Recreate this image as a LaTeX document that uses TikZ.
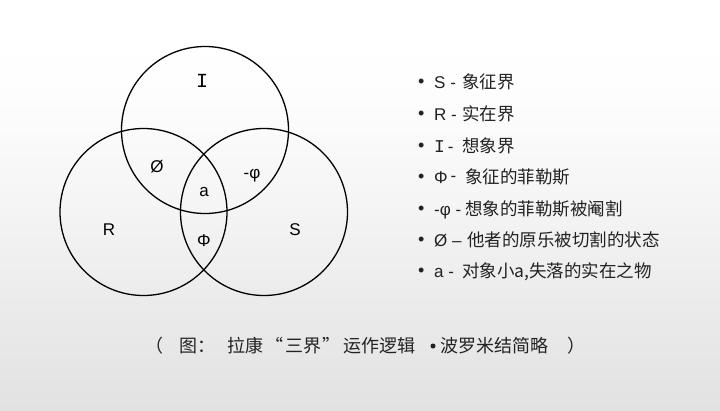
\documentclass[tikz,border=0pt]{standalone}
\usepackage{fontspec}
\setmainfont{Liberation Sans}
\newfontfamily\cjk{Noto Sans CJK SC}
\newfontfamily\monoI{Liberation Mono}
\definecolor{bgA}{HTML}{E2E2E2}
\definecolor{bgB}{HTML}{EBEBEB}
\definecolor{bgC}{HTML}{F5F5F5}
\definecolor{bgD}{HTML}{FDFDFD}
\definecolor{textgray}{HTML}{222222}
\pgfdeclareverticalshading{pagebg}{100bp}{color(0bp)=(bgA); color(25bp)=(bgA); color(38bp)=(bgB); color(50.6bp)=(bgC); color(62.8bp)=(bgD); color(70bp)=(white); color(100bp)=(white)}
\newcommand\legline[3]{\makebox[16pt][l]{\raisebox{0.5pt}{\fontsize{18}{18}\selectfont •}}\makebox[#1][l]{#2}{\cjk\fontsize{17.5}{17.5}\selectfont #3}}
\newcommand\bigI[1]{{\monoI\fontsize{#1}{#1}\selectfont I}}
\begin{document}
\begin{tikzpicture}[x=1pt,y=-1pt,
  ring/.style={circle, draw=black, line width=1.3pt, minimum size=167pt, inner sep=0pt},
  vlab/.style={anchor=base, inner sep=0pt, font=\fontsize{17}{17}\selectfont, text=black},
  legrow/.style={anchor=base west, inner sep=0pt, font=\fontsize{17}{17}\selectfont, text=textgray},
  capt/.style={anchor=base west, inner sep=0pt, font=\cjk\fontsize{18}{18}\selectfont, text=textgray},
  dotmark/.style={circle, fill=textgray, minimum size=5pt, inner sep=0pt}]
\fill[shading=pagebg] (0,0) rectangle (720,410);
\useasboundingbox (0,0) rectangle (720,410);
% circles
\node[ring] (cI) at (205,130) {};
\node[ring] (cR) at (143.5,212) {};
\node[ring] (cS) at (264,212) {};
% region labels
\node[vlab] (lI) at (202,87) {\bigI{20}};
\node[vlab] (lO) at (157,172) {Ø};
\node[vlab] (lphi) at (252,178) {-φ};
\node[vlab] (la) at (204,196) {a};
\node[vlab] (lR) at (109,235) {R};
\node[vlab] (lS) at (295,235) {S};
\node[vlab] (lPhi) at (204,246.5) {Φ};
% legend
\node[legrow] (g1) at (418,88) {\legline{28pt}{S -}{象征界}};
\node[legrow] (g2) at (418,120) {\legline{28pt}{R -}{实在界}};
\node[legrow] (g3) at (418,152) {\legline{28pt}{\bigI{18}\,-}{想象界}};
\node[legrow] (g4) at (418,183) {\legline{31pt}{Φ\,\raisebox{2pt}{-}}{象征的菲勒斯}};
\node[legrow] (g5) at (418,215) {\legline{31pt}{-φ -}{想象的菲勒斯被阉割}};
\node[legrow] (g6) at (418,246) {\legline{33pt}{Ø –}{他者的原乐被切割的状态}};
\node[legrow] (g7) at (418,277) {\legline{28pt}{a -}{对象小a,失落的实在之物}};
% caption
\node[capt] (k1) at (145,352) {（};
\node[capt] (k2) at (179,352) {图：};
\node[capt] (k3) at (227,352) {拉康};
\node[capt] (k3a) at (265,352) {“};
\node[capt] (k3b) at (285,352) {三界};
\node[capt] (k3c) at (322,352) {”};
\node[capt] (k4) at (343,352) {运作逻辑};
\node[dotmark] (k5) at (433,346) {};
\node[capt] (k6) at (440,352) {波罗米结简略};
\node[capt] (k7) at (567,352) {）};
\end{tikzpicture}
\end{document}
